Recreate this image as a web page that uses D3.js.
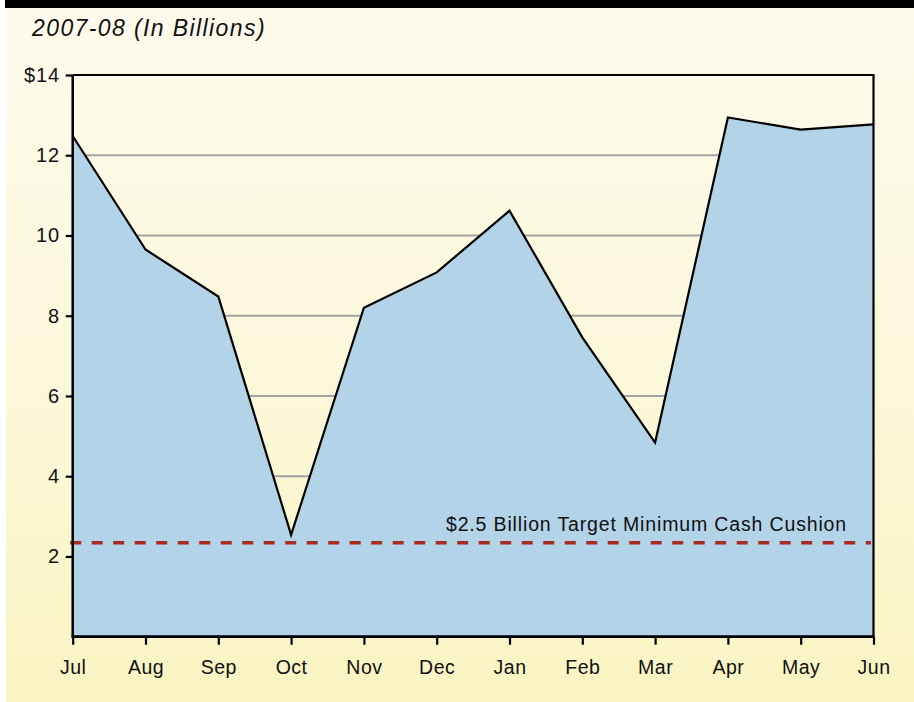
<!DOCTYPE html>
<html><head><meta charset="utf-8">
<script src="https://cdn.jsdelivr.net/npm/d3@7"></script>
<style>
html,body{margin:0;padding:0;background:#fff;}
svg{display:block;}
text{font-family:"Liberation Sans",Arial,Helvetica,sans-serif;fill:#111;}
</style></head>
<body>
<script>
const months = ["Jul","Aug","Sep","Oct","Nov","Dec","Jan","Feb","Mar","Apr","May","Jun"];
const cashBalance = [12.48, 9.65, 8.48, 2.54, 8.2, 9.08, 10.62, 7.46, 4.84, 12.94, 12.64, 12.77];
const yTicks = [2, 4, 6, 8, 10, 12, 14];
const targetLevel = 2.34;
const targetLabel = "$2.5 Billion Target Minimum Cash Cushion";
const title = "2007-08 (In Billions)";

(function(){
const W = 914, H = 702;
const pL = 72.7, pR = 873.5, pT = 75, pB = 636.7;

const svg = d3.select("body").append("svg").attr("width", W).attr("height", H);
const defs = svg.append("defs");
const grad = defs.append("linearGradient").attr("id","bg").attr("x1",0).attr("y1",0).attr("x2",0).attr("y2",1);
grad.append("stop").attr("offset","0%").attr("stop-color","#fdfaec");
grad.append("stop").attr("offset","50%").attr("stop-color","#fcf8dc");
grad.append("stop").attr("offset","100%").attr("stop-color","#faf4c2");

svg.append("rect").attr("x",6).attr("y",0).attr("width",W-6).attr("height",H).attr("fill","url(#bg)");
svg.append("rect").attr("x",5).attr("y",0).attr("width",W-5).attr("height",8).attr("fill","#000");

svg.append("text").attr("x",32).attr("y",36).attr("font-size",23).attr("letter-spacing",1.4)
  .attr("font-style","italic").text(title);

const x = d3.scalePoint().domain(months).range([pL, pR]);
const y = d3.scaleLinear().domain([0,14]).range([pB, pT]);

svg.append("g").selectAll("line").data(yTicks.filter(t => t < 14)).join("line")
  .attr("x1", pL).attr("x2", pR)
  .attr("y1", d => y(d)).attr("y2", d => y(d))
  .attr("stroke","#a3a3a3").attr("stroke-width",2);

const area = d3.area().x((d,i)=>x(months[i])).y0(y(0)).y1(d=>y(d));
svg.append("path").datum(cashBalance).attr("d", area).attr("fill","#b3d3e8");
const line = d3.line().x((d,i)=>x(months[i])).y(d=>y(d));
svg.append("path").datum(cashBalance).attr("d", line).attr("fill","none")
  .attr("stroke","#000").attr("stroke-width",2.2).attr("stroke-linejoin","miter");

svg.append("line").attr("x1", pL-2.5).attr("x2", pR-2.5)
  .attr("y1", y(targetLevel)).attr("y2", y(targetLevel))
  .attr("stroke","#a82c20").attr("stroke-width",3.5).attr("stroke-dasharray","11,10.5");
svg.append("text").attr("x",847).attr("y",531).attr("text-anchor","end")
  .attr("font-size",19.5).attr("letter-spacing",0.85).text(targetLabel);

svg.append("line").attr("x1",pL).attr("x2",pR+1).attr("y1",pT).attr("y2",pT).attr("stroke","#000").attr("stroke-width",2.2);
svg.append("line").attr("x1",pR).attr("x2",pR).attr("y1",pT).attr("y2",pB).attr("stroke","#000").attr("stroke-width",2.2);

const yAxis = d3.axisLeft(y).tickValues(yTicks).tickSize(7).tickPadding(5)
  .tickFormat(d => d === 14 ? "$14" : d);
const gy = svg.append("g").attr("transform",`translate(${pL},0)`).call(yAxis);
gy.select(".domain").attr("stroke","#000").attr("stroke-width",2.5).attr("d",`M0,${pT}V${pB+1}`);
gy.selectAll(".tick line").attr("stroke","#000").attr("stroke-width",2.2);
gy.selectAll(".tick text").attr("font-size",20).attr("letter-spacing",0.8).attr("dx",-0.8)
  .attr("fill","#111").attr("font-family","Liberation Sans, Arial, sans-serif");

const xAxis = d3.axisBottom(x).tickSize(8).tickPadding(15);
const gx = svg.append("g").attr("transform",`translate(0,${pB})`).call(xAxis);
gx.select(".domain").attr("stroke","#000").attr("stroke-width",2.8).attr("d",`M${pL-1},0H${pR+1}`);
gx.selectAll(".tick line").attr("stroke","#000").attr("stroke-width",2.2);
gx.selectAll(".tick text").attr("font-size",19.5).attr("letter-spacing",0.5).attr("fill","#111").attr("font-family","Liberation Sans, Arial, sans-serif");
})();
</script>
</body></html>
